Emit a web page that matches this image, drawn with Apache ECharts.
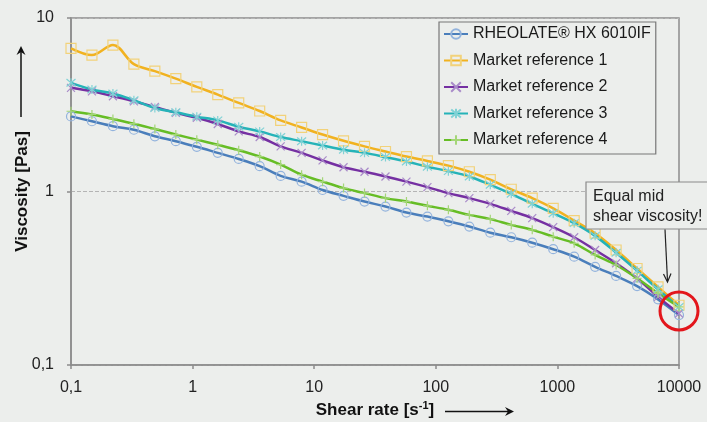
<!DOCTYPE html>
<html><head><meta charset="utf-8">
<script src="https://cdn.jsdelivr.net/npm/echarts@6/dist/echarts.min.js"></script>
<style>html,body{margin:0;padding:0;background:#eceeec}#c{width:707px;height:422px}</style>
</head><body><div id="c"></div>
<script>
const shearRates = [0.1, 0.1487, 0.2212, 0.329, 0.4894, 0.7279, 1.083, 1.61, 2.395, 3.562, 5.298, 7.88, 11.72, 17.43, 25.93, 38.57, 57.36, 85.32, 126.9, 188.7, 280.7, 417.5, 621, 923.7, 1374, 2043, 3039, 4520, 6723, 10000];
const rheolate = [2.71, 2.54, 2.38, 2.27, 2.08, 1.95, 1.81, 1.67, 1.54, 1.40, 1.23, 1.14, 1.02, 0.944, 0.875, 0.819, 0.756, 0.717, 0.673, 0.628, 0.579, 0.545, 0.507, 0.465, 0.421, 0.368, 0.326, 0.285, 0.239, 0.194];
const marketRef1 = [6.68, 6.11, 6.98, 5.42, 4.94, 4.47, 4.01, 3.62, 3.24, 2.91, 2.57, 2.34, 2.13, 1.96, 1.82, 1.70, 1.59, 1.50, 1.41, 1.30, 1.17, 1.03, 0.916, 0.80, 0.68, 0.575, 0.46, 0.36, 0.282, 0.221];
const marketRef2 = [3.96, 3.78, 3.54, 3.31, 3.07, 2.84, 2.66, 2.45, 2.22, 2.06, 1.82, 1.67, 1.51, 1.38, 1.30, 1.22, 1.14, 1.06, 0.979, 0.916, 0.849, 0.773, 0.702, 0.623, 0.545, 0.460, 0.386, 0.316, 0.247, 0.198];
const marketRef3 = [4.23, 3.87, 3.67, 3.36, 3.03, 2.86, 2.70, 2.57, 2.36, 2.22, 2.06, 1.95, 1.84, 1.74, 1.67, 1.58, 1.49, 1.39, 1.31, 1.22, 1.093, 0.970, 0.849, 0.750, 0.657, 0.555, 0.444, 0.350, 0.273, 0.216];
const marketRef4 = [2.90, 2.78, 2.62, 2.46, 2.29, 2.13, 1.99, 1.86, 1.73, 1.59, 1.43, 1.25, 1.14, 1.046, 0.979, 0.916, 0.875, 0.827, 0.784, 0.733, 0.693, 0.642, 0.601, 0.549, 0.503, 0.431, 0.377, 0.316, 0.259, 0.216];
const seriesNames = ['RHEOLATE® HX 6010IF', 'Market reference 1', 'Market reference 2', 'Market reference 3', 'Market reference 4'];
const xTickLabels = ['0,1', '1', '10', '100', '1000', '10000'];
const yTickLabels = ['0,1', '1', '10'];

const BG = '#eceeec';
const FONT = '"Liberation Sans", Arial, sans-serif';
const chart = echarts.init(document.getElementById('c'), null, {renderer: 'canvas'});

function mk(name, data, color, markColor, symbol, size) {
  return {
    name, type: 'line', data: shearRates.map((x, i) => [x, data[i]]),
    smooth: 0.35, symbol, symbolSize: size, showSymbol: true,
    lineStyle: {color, width: 2.5},
    itemStyle: {color: 'rgba(0,0,0,0)', borderColor: markColor, borderWidth: 1.2},
    emphasis: {disabled: true}, animation: false
  };
}
const X = 'path://M0,0L10,10M10,0L0,10';
const AST = 'path://M0,0L10,10M10,0L0,10M5,-1L5,11';
const PLUS = 'path://M5,0L5,10M0,5L10,5';

function decIdx(v, lo) { return Math.round(Math.log10(v) - Math.log10(lo)); }

chart.setOption({
  backgroundColor: BG,
  animation: false,
  grid: {left: 71, right: 28, top: 18, bottom: 57, show: true, borderColor: '#8c8c8c', borderWidth: 1.5, backgroundColor: 'transparent'},
  xAxis: {
    type: 'log', logBase: 10, min: 0.1, max: 10000,
    axisLine: {lineStyle: {color: '#8c8c8c', width: 1.5}},
    axisTick: {show: true, length: 4, lineStyle: {color: '#8c8c8c', width: 1.5}},
    minorTick: {show: false}, splitLine: {show: false},
    axisLabel: {margin: 15, color: '#222', fontSize: 16, fontFamily: FONT,
      formatter: v => xTickLabels[decIdx(v, 0.1)]}
  },
  yAxis: {
    type: 'log', logBase: 10, min: 0.1, max: 10,
    axisLine: {lineStyle: {color: '#8c8c8c', width: 1.5}},
    axisTick: {show: true, length: 4, lineStyle: {color: '#8c8c8c', width: 1.5}},
    minorTick: {show: false},
    splitLine: {show: true, lineStyle: {color: '#b4b4b4', width: 1, type: [4, 2]}},
    axisLabel: {margin: 17, color: '#222', fontSize: 16, fontFamily: FONT,
      formatter: v => yTickLabels[decIdx(v, 0.1)]}
  },
  legend: {
    orient: 'vertical', left: 439, top: 22,
    backgroundColor: BG, borderColor: '#777', borderWidth: 1.2,
    padding: [4, 5, 6, 4], itemWidth: 24, itemHeight: 12, itemGap: 10.5,
    textStyle: {color: '#1a1a1a', fontSize: 16, fontFamily: FONT, lineHeight: 16},
    data: seriesNames
  },
  series: [
    mk(seriesNames[0], rheolate, '#4a7ebb', '#93b3dd', 'circle', 9),
    mk(seriesNames[1], marketRef1, '#f1b220', '#f2d27a', 'rect', 10),
    mk(seriesNames[2], marketRef2, '#7530a2', '#a98bc9', X, 8),
    mk(seriesNames[3], marketRef3, '#25b3b8', '#80d2d5', AST, 9),
    mk(seriesNames[4], marketRef4, '#66bd25', '#a4d678', PLUS, 9)
  ]
});

const c = chart.convertToPixel({gridIndex: 0}, [10000, 0.205]);
chart.setOption({
  graphic: [
    {type: 'text', x: 22, y: 191.5, rotation: Math.PI / 2,
      style: {text: 'Viscosity [Pas]', font: 'bold 17px ' + FONT, fill: '#111', align: 'center', verticalAlign: 'middle', textAlign: 'center', textVerticalAlign: 'middle'}},
    {type: 'polyline', shape: {points: [[21, 117], [21, 49]]}, style: {stroke: '#111', lineWidth: 1.5}},
    {type: 'polygon', shape: {points: [[16.5, 55], [21, 46], [25.5, 55], [21, 52]]}, style: {fill: '#111'}},
    {type: 'text', x: 375, y: 410,
      style: {text: '{b|Shear rate [s}{s|-1}{b|]}', align: 'center', verticalAlign: 'middle', textAlign: 'center', textVerticalAlign: 'middle',
        rich: {b: {font: 'bold 17px ' + FONT, fill: '#111', lineHeight: 20}, s: {font: 'bold 11px ' + FONT, fill: '#111', verticalAlign: 'top', lineHeight: 20, padding: [0, 0, 0, 0]}}}},
    {type: 'polyline', shape: {points: [[445, 411.5], [511, 411.5]]}, style: {stroke: '#111', lineWidth: 1.5}},
    {type: 'polygon', shape: {points: [[505, 407], [514, 411.5], [505, 416], [508, 411.5]]}, style: {fill: '#111'}},
    {type: 'rect', shape: {x: 586, y: 182, width: 130, height: 47}, style: {fill: BG, stroke: '#8a8a8a', lineWidth: 1.2}, z: 100},
    {type: 'text', x: 593, y: 197, z: 101, style: {text: 'Equal mid', font: '16px ' + FONT, fill: '#222', verticalAlign: 'middle', textVerticalAlign: 'middle'}},
    {type: 'text', x: 593, y: 217, z: 101, style: {text: 'shear viscosity!', font: '16px ' + FONT, fill: '#222', verticalAlign: 'middle', textVerticalAlign: 'middle'}},
    {type: 'polyline', z: 101, shape: {points: [[665, 229.5], [667.5, 281]]}, style: {stroke: '#222', lineWidth: 1.2}},
    {type: 'polyline', z: 101, shape: {points: [[663.5, 274], [667.5, 282], [671, 273.5]]}, style: {stroke: '#222', lineWidth: 1.2, fill: 'none'}},
    {type: 'circle', z: 102, shape: {cx: c[0], cy: c[1], r: 19}, style: {fill: 'none', stroke: '#e3161c', lineWidth: 3}}
  ]
});
</script></body></html>
